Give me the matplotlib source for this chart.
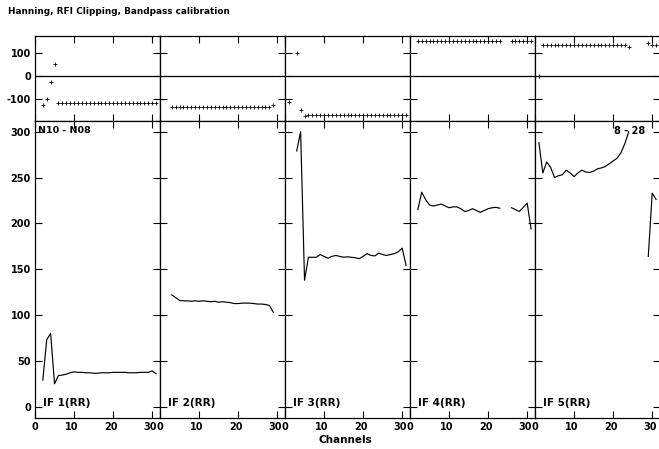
import numpy as np
import matplotlib.pyplot as plt
import matplotlib.transforms as mtransforms

plt.rcParams['font.family'] = 'DejaVu Sans'
plt.rcParams['font.weight'] = 'bold'
plt.rcParams['axes.unicode_minus'] = False

nan = np.nan

# channel numbers 1..31, nan = flagged channel
channels = np.arange(1, 32)

if_labels = ['IF 1(RR)', 'IF 2(RR)', 'IF 3(RR)', 'IF 4(RR)', 'IF 5(RR)']

phase_if1 = [nan, -128, -100, -25, 53] + [-117] * 26
amp_if1 = [nan, 29, 73, 80, 25, 34, 34.5, 35.5, 37, 38, 37.5, 37.5, 37, 37, 36.5,
           36.5, 37, 37, 37, 37.5, 37.5, 37.5, 37.5, 37, 37, 37, 37.5, 37.5, 37.5, 39, 36]

phase_if2 = [nan, nan] + [-135] * 26 + [-128, nan, nan]
amp_if2 = [nan, nan, 122, 119, 116, 115.5, 115.5, 115, 115.5, 115, 115.5, 115, 114.5,
           115, 114, 114.5, 114, 113.5, 112.5, 112.5, 113, 113, 113, 112.5, 112, 112,
           111.5, 110.5, 103, nan, nan]

phase_if3 = [-113, nan, 103, -147, -176] + [-170] * 26
amp_if3 = [nan, nan, 279, 300, 138, 163, 163, 163, 166, 164, 162, 164, 165, 164, 163,
           163.5, 163, 162.5, 161.5, 164, 167, 165, 164.5, 167.5, 166, 165, 166, 167,
           169, 173, 154]

phase_if4 = [nan] + [155] * 22 + [nan, nan] + [155] * 6
amp_if4 = [nan, 215, 234, 226, 220, 219, 220, 221, 219, 217, 218, 218, 216, 213, 214,
           216, 214, 212, 214, 216, 217, 217.5, 216.5, nan, nan, 217, 215, 213, 217.5,
           222, 194]

phase_if5 = [2] + [135] * 22 + [127, nan, nan, nan, nan, 146, 136, 136]
amp_if5 = [288, 255, 267, 261, 250, 252, 253, 258, 255, 251, 255, 258, 256, 255.5, 257,
           259.5, 260.5, 262, 265, 268, 271, 277, 287, 300, nan, nan, nan, nan, 164,
           233, 226]

phases = [phase_if1, phase_if2, phase_if3, phase_if4, phase_if5]
amps = [amp_if1, amp_if2, amp_if3, amp_if4, amp_if5]

W, H = 659, 449
fig = plt.figure(figsize=(W / 100, H / 100), dpi=100)

x0 = 35.0
pw = 125.0
top_y0, mid_y, bot_y1 = 35.7, 120.7, 417.7

shift = mtransforms.ScaledTranslation(-0.022, 0, fig.dpi_scale_trans)

for i in range(5):
    left = (x0 + i * pw) / W
    ax_p = fig.add_axes([left, 1 - mid_y / H, pw / W, (mid_y - top_y0) / H])
    ax_a = fig.add_axes([left, 1 - bot_y1 / H, pw / W, (bot_y1 - mid_y) / H])

    # phase panel
    ax_p.plot(channels, np.array(phases[i], dtype=float), '+', color='black',
              markersize=2.3, markeredgewidth=0.6)
    ax_p.axhline(0, color='black', lw=0.9)
    ax_p.set_ylim(-196, 177)
    ax_p.set_yticks([-100, 0, 100])

    # amplitude panel
    ax_a.plot(channels, np.array(amps[i], dtype=float), '-', color='black', lw=0.85)
    ax_a.set_ylim(-12, 312)
    ax_a.set_yticks([0, 50, 100, 150, 200, 250, 300])

    for ax in (ax_p, ax_a):
        ax.set_xlim(0, 32)
        ax.set_xticks([0, 10, 20, 30])
        ax.tick_params(direction='in', length=5, width=0.8, top=True, right=True,
                       labelsize=7, pad=3, colors='black')
        for s in ax.spines.values():
            s.set_linewidth(0.9)
        if i > 0:
            ax.tick_params(labelleft=False)
    ax_p.tick_params(labelbottom=False)

    for lab in ax_a.get_xticklabels()[1:]:
        lab.set_transform(lab.get_transform() + shift)

    ax_a.text(0.064, 0.05, if_labels[i], transform=ax_a.transAxes,
              fontsize=7.5, fontweight='bold', ha='left', va='center')

fig.axes[1].text(0.025, 0.966, 'N10 - N08', transform=fig.axes[1].transAxes,
                 fontsize=6.8, fontweight='bold', ha='left', va='center')
fig.axes[9].text(0.756, 0.966, '8 - 28', transform=fig.axes[9].transAxes,
                 fontsize=7, fontweight='bold', ha='center', va='center')

fig.text(8 / W, 1 - 12 / H, 'Hanning, RFI Clipping, Bandpass calibration',
         fontsize=6.4, fontweight='bold', ha='left', va='center')
fig.text(345 / W, 1 - 440 / H, 'Channels', fontsize=7.5, fontweight='bold',
         ha='center', va='center')

fig.savefig('out.png', dpi=100)
